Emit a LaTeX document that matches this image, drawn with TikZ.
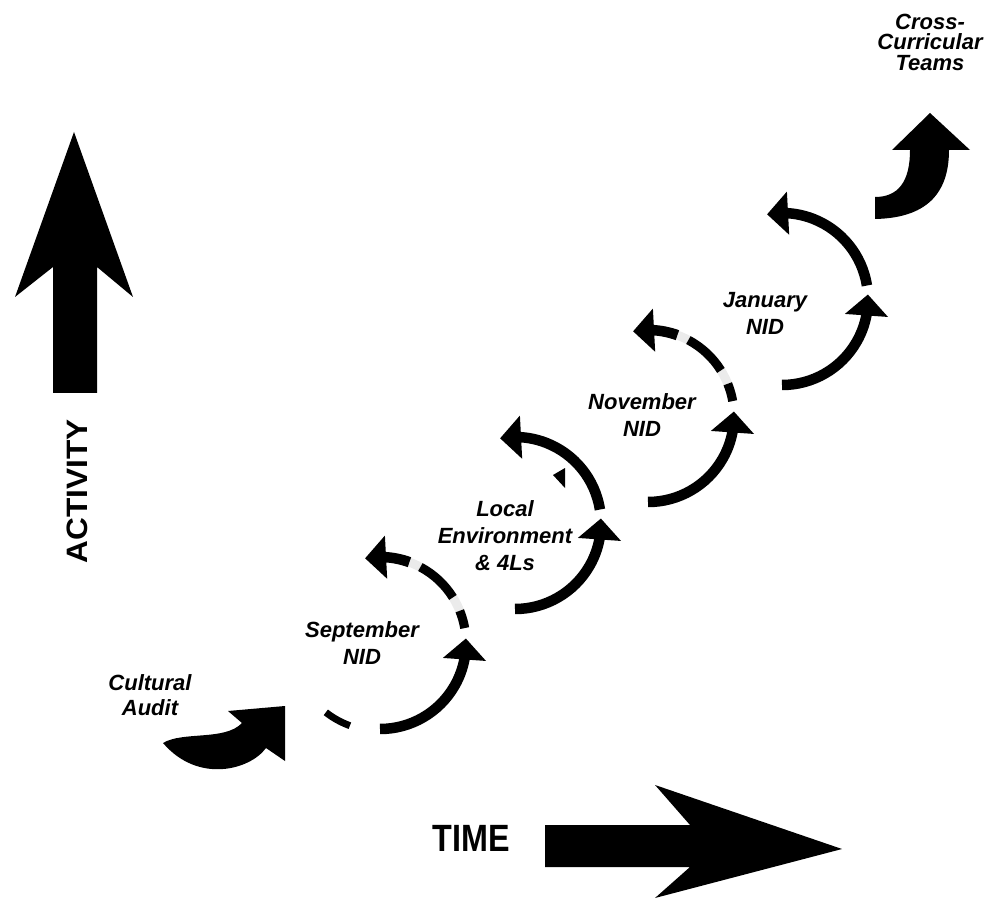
\documentclass[tikz,border=0pt]{standalone}
\usepackage{fontspec}
\setmainfont{Liberation Sans}
\usetikzlibrary{arrows.meta,bending,calc}
\begin{document}
\begin{tikzpicture}[x=1pt,y=-1pt,
  curv/.style={line width=10.5pt, -{Triangle[width=42pt,length=21pt]}},
  seg/.style={line width=9pt},
  faint/.style={line width=9pt, draw=black!8},
  lbl/.style={font=\fontsize{22}{27}\selectfont\bfseries\itshape, align=center, inner sep=0pt},
  bigarrow/.style={fill=black}
]
\useasboundingbox (0,0) rectangle (986,901);

% circle centres
\coordinate (c1) at (380,643);
\coordinate (c2) at (515,523);
\coordinate (c3) at (648,416);
\coordinate (c4) at (782,299);

% lower right quarter arrows
\foreach \c in {c1,c2,c3,c4} {
  \draw[curv] ($(\c)+(-90:86pt)$) arc[start angle=-90,end angle=3,radius=86pt];
}
% upper arcs, complete
\foreach \c in {c2,c4} {
  \draw[curv] ($(\c)+(9:86pt)$) arc[start angle=9,end angle=100,radius=86pt];
}
% upper arcs, partly faded
\foreach \c in {c1,c3} {
  \draw[faint] ($(\c)+(10:86pt)$) arc[start angle=10,end angle=72,radius=86pt];
  \draw[seg] ($(\c)+(10:86pt)$) arc[start angle=10,end angle=22,radius=86pt];
  \draw[seg] ($(\c)+(32:86pt)$) arc[start angle=32,end angle=62,radius=86pt];
  \draw[curv] ($(\c)+(70:86pt)$) arc[start angle=70,end angle=100,radius=86pt];
}
% small dark remnants
\draw[line width=7pt] ($(c1)+(232:88pt)$) arc[start angle=232,end angle=250,radius=88pt];
\fill (553,475) -- (565,468) -- (565,488) -- cycle;

% Cultural Audit arrow
\fill (163,743) .. controls (183,731) and (225,741) .. (242,723)
  -- (228,711) -- (285,706) -- (285,761) -- (266,748)
  .. controls (250,770) and (198,784) .. (163,743) -- cycle;

% Cross-Curricular arrow
\fill (875,197) -- (875,219) .. controls (925,218) and (949,195) .. (949,150)
  -- (970,150) -- (930,113) -- (892,150) -- (910,150)
  .. controls (910,182) and (898,197) .. (875,197) -- cycle;

% ACTIVITY arrow
\fill[bigarrow] (53,393) -- (53,267) -- (15,297) -- (74,132) -- (133,297) -- (97,267) -- (97,393) -- cycle;
% TIME arrow
\fill[bigarrow] (545,825) -- (690,825) -- (655,785) -- (842,849) -- (655,898) -- (690,867) -- (545,867) -- cycle;

% labels
\node[font=\fontsize{29.5}{30}\selectfont\bfseries, inner sep=0pt, rotate=90] (act) at (77.5,491.5) {\scalebox{1.07}[1]{ACTIVITY}};
\node[font=\fontsize{38}{38}\selectfont\bfseries, inner sep=0pt] (time) at (471.5,838) {\scalebox{0.85}[1]{TIME}};

\node[lbl, font=\fontsize{22}{25}\selectfont\bfseries\itshape] (cult) at (150,695) {Cultural\\Audit};
\node[lbl] (sep) at (362,643) {September\\NID};
\node[lbl] (loc) at (505,536) {Local\\Environment\\\& 4Ls};
\node[lbl] (nov) at (642,415) {November\\NID};
\node[lbl] (jan) at (765,313) {January\\NID};
\node[lbl, font=\fontsize{22}{20.5}\selectfont\bfseries\itshape] (cross) at (930,42) {Cross-\\Curricular\\Teams};
\end{tikzpicture}
\end{document}
